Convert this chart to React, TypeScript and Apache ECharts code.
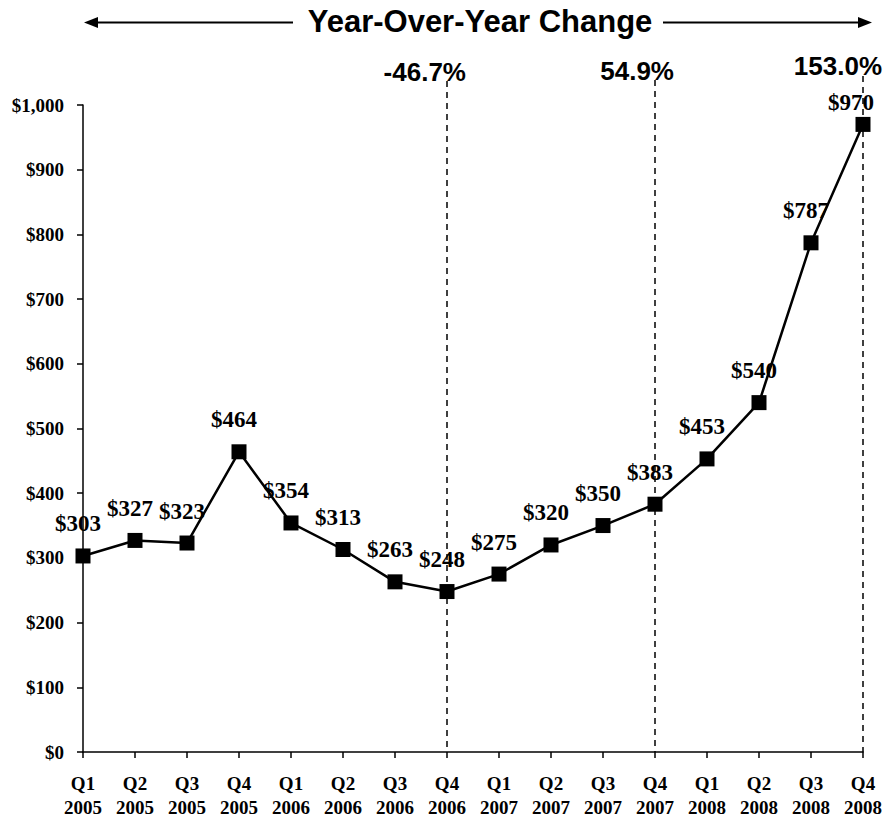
import React, { useEffect, useRef } from "react";
import * as echarts from "echarts";

const quarters = ["Q1", "Q2", "Q3", "Q4", "Q1", "Q2", "Q3", "Q4", "Q1", "Q2", "Q3", "Q4", "Q1", "Q2", "Q3", "Q4"];
const years = ["2005", "2005", "2005", "2005", "2006", "2006", "2006", "2006", "2007", "2007", "2007", "2007", "2008", "2008", "2008", "2008"];
const values = [303, 327, 323, 464, 354, 313, 263, 248, 275, 320, 350, 383, 453, 540, 787, 970];
const yTicks = [0, 100, 200, 300, 400, 500, 600, 700, 800, 900, 1000];
const changeIndices = [7, 11, 15];
const changeLabels = ["-46.7%", "54.9%", "153.0%"];
const titleText = "Year-Over-Year Change";

const categories = quarters.map((q, i) => q + "\n" + years[i]);

export default function App() {
  const ref = useRef<HTMLDivElement>(null);
  useEffect(() => {
    if (!ref.current) return;
    const chart = echarts.init(ref.current, null, { renderer: "svg" });
    const serif = "'Liberation Serif', 'Times New Roman', serif";
    const sans = "'Liberation Sans', Arial, sans-serif";
    const last = values.length - 1;
    chart.setOption({
      animation: false,
      backgroundColor: "#ffffff",
      grid: { left: 83, right: 20, top: 105, bottom: 64, containLabel: false, outerBoundsMode: "none" },
      xAxis: {
        type: "category",
        data: categories,
        boundaryGap: false,
        axisLine: { lineStyle: { color: "#000", width: 1.5 } },
        axisTick: { show: true, length: 6, inside: false, lineStyle: { color: "#000", width: 1.5 } },
        axisLabel: {
          color: "#000",
          fontFamily: serif,
          fontWeight: "bold",
          fontSize: 19,
          lineHeight: 24,
          margin: 19,
          interval: 0,
        },
        splitLine: { show: false },
      },
      yAxis: {
        type: "value",
        min: yTicks[0],
        max: yTicks[yTicks.length - 1],
        interval: 100,
        axisLine: { show: true, lineStyle: { color: "#000", width: 1.5 } },
        axisTick: { show: true, length: 6, lineStyle: { color: "#000", width: 1.5 } },
        axisLabel: {
          color: "#000",
          fontFamily: serif,
          fontWeight: "bold",
          fontSize: 19,
          margin: 19,
          formatter: (v: number) => "$" + v.toLocaleString("en-US"),
        },
        splitLine: { show: false },
      },
      series: [
        {
          type: "line",
          data: values.map((v, i) => ({
            value: v,
            label: i === last ? { offset: [-12, -22] } : undefined,
          })),
          clip: false,
          symbol: "rect",
          symbolSize: 15,
          itemStyle: { color: "#000" },
          lineStyle: { color: "#000", width: 2.5 },
          label: {
            show: true,
            position: "inside",
            offset: [-5, -32],
            color: "#000",
            textBorderWidth: 0,
            textBorderColor: "transparent",
            fontFamily: serif,
            fontWeight: "bold",
            fontSize: 23,
            formatter: (p: any) => "$" + p.value,
          },
          z: 3,
        },
      ],
    });

    const px = (i: number, v: number) =>
      chart.convertToPixel({ xAxisIndex: 0, yAxisIndex: 0 }, [i, v]) as number[];

    const dashTops = [81, 80, 76];
    const labelYs = [72, 71, 66];
    const graphics: any[] = [];
    changeIndices.forEach((idx, k) => {
      const bottom = px(idx, 0);
      graphics.push({
        type: "line",
        shape: { x1: bottom[0], y1: dashTops[k], x2: bottom[0], y2: bottom[1] },
        style: { stroke: "#000", lineWidth: 1.5, lineDash: [6, 5] },
        z: 10,
      });
      graphics.push({
        type: "text",
        x: bottom[0] + 19,
        y: labelYs[k],
        style: {
          text: changeLabels[k],
          font: "bold 26px " + sans,
          fill: "#000",
          align: "right",
          verticalAlign: "middle",
        },
        z: 10,
      });
    });
    // title with arrows
    graphics.push({
      type: "text",
      x: 480,
      y: 21,
      style: {
        text: titleText,
        font: "bold 31px " + sans,
        fill: "#000",
        align: "center",
        verticalAlign: "middle",
      },
      z: 10,
    });
    graphics.push({ type: "line", shape: { x1: 96, y1: 22.5, x2: 293, y2: 22.5 }, style: { stroke: "#000", lineWidth: 2 }, z: 10 });
    graphics.push({ type: "polygon", shape: { points: [[84, 22.5], [98, 17], [98, 28]] }, style: { fill: "#000" }, z: 10 });
    graphics.push({ type: "line", shape: { x1: 663, y1: 22.5, x2: 860, y2: 22.5 }, style: { stroke: "#000", lineWidth: 2 }, z: 10 });
    graphics.push({ type: "polygon", shape: { points: [[872, 22.5], [858, 17], [858, 28]] }, style: { fill: "#000" }, z: 10 });

    chart.setOption({ graphic: graphics });

    return () => chart.dispose();
  }, []);
  return (
    <div
      ref={ref}
      style={{ position: "absolute", left: 0, top: 0, width: 883, height: 816, background: "#fff" }}
    />
  );
}
